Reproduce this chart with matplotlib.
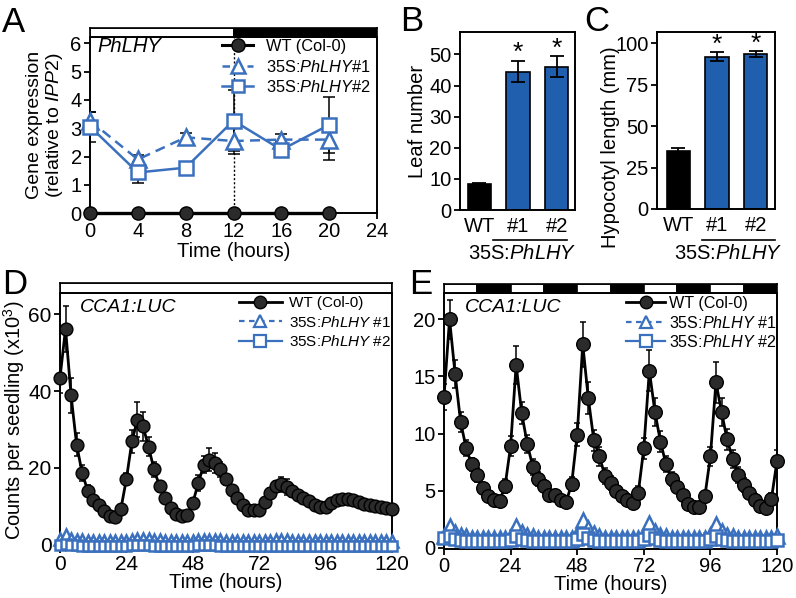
import numpy as np
import matplotlib
matplotlib.use('Agg')
import matplotlib.pyplot as plt
from matplotlib.lines import Line2D
from matplotlib.patches import Rectangle

plt.rcParams['font.family'] = ['Liberation Sans', 'DejaVu Sans']
plt.rcParams['mathtext.fontset'] = 'custom'
plt.rcParams['mathtext.rm'] = 'Liberation Sans'
plt.rcParams['mathtext.it'] = 'Liberation Sans:italic'
plt.rcParams['mathtext.bf'] = 'Liberation Sans:bold'

# ---------------- data ----------------
# Panel A: qPCR time course
a_time = [0, 4, 8, 12, 16, 20]
a_wt = [0, 0, 0, 0, 0, 0]
a_l1 = [3.27, 1.9, 2.68, 2.55, 2.6, 2.6]
a_l1_err = [0.3, 0.15, 0.17, 0.46, 0.2, 0.72]
a_l2 = [3.06, 1.44, 1.61, 3.27, 2.24, 3.12]
a_l2_err = [0.53, 0.36, 0.1, 1.08, 0.26, 1.0]
a_ld_start = [0, 12]
a_ld_end = [12, 24]
a_ld_color = ['white', 'black']

# Panel B: leaf number
b_labels = ['WT', '#1', '#2']
b_vals = [8.3, 44.5, 46.0]
b_err = [0.3, 3.5, 3.4]
b_sig = ['', '*', '*']

# Panel C: hypocotyl length
c_labels = ['WT', '#1', '#2']
c_vals = [34.8, 92.0, 93.5]
c_err = [1.8, 2.5, 2.0]
c_sig = ['', '*', '*']

# Panels D/E: time (hours)
time_h = np.arange(0, 122, 2)

d_wt = [43.5, 56.3, 38.9, 26.1, 18.7, 14.1, 11.7, 10.4, 8.7, 7.4,
        7.2, 9.3, 17.1, 27.0, 32.6, 30.9, 25.5, 19.6, 15.2, 12.2,
        9.6, 8.1, 7.4, 7.8, 10.9, 16.1, 20.9, 22.2, 21.3, 19.6,
        17.0, 14.3, 12.2, 10.4, 9.1, 9.0, 9.1, 11.0, 13.5, 15.2,
        15.7, 15.0, 13.9, 13.0, 12.2, 11.3, 10.4, 9.7, 9.7, 10.9,
        11.6, 11.9, 11.9, 11.6, 11.0, 10.6, 10.3, 10.0, 9.8, 9.6,
        9.3]
d_wt_err = [4.0, 6.0, 4.5, 3.0, 2.0, 1.5, 1.2, 1.0, 1.0, 0.8,
            0.8, 1.0, 1.5, 3.0, 4.5, 3.8, 2.5, 2.0, 1.5, 1.2,
            1.0, 0.8, 0.8, 0.8, 1.2, 2.0, 2.2, 3.0, 2.5, 2.0,
            1.5, 1.2, 1.0, 0.8, 0.8, 0.8, 0.8, 1.0, 1.2, 1.5,
            2.0, 2.0, 1.5, 1.0, 0.8, 0.8, 0.8, 0.8, 0.8, 0.8,
            0.8, 0.8, 0.8, 0.8, 0.8, 0.8, 0.8, 0.8, 0.8, 0.8,
            0.8]
d_l1 = [1.5, 2.5, 1.6, 1.2, 1.1, 1.0, 1.0, 1.0, 0.9, 0.9,
        0.9, 0.9, 1.0, 1.2, 1.4, 1.5, 1.4, 1.2, 1.1, 1.0,
        0.9, 0.9, 0.9, 0.9, 1.0, 1.1, 1.2, 1.2, 1.2, 1.1,
        1.0, 1.0, 0.9, 0.9, 0.9, 0.9, 0.9, 1.0, 1.0, 1.1,
        1.1, 1.1, 1.0, 1.0, 0.9, 0.9, 0.9, 0.9, 0.9, 1.0,
        1.0, 1.0, 1.0, 1.0, 1.0, 0.9, 0.9, 0.9, 0.9, 0.9,
        0.9]
d_l2 = [0.0, 0.3, 0.0, -0.2, -0.3, -0.3, -0.3, -0.3, -0.3, -0.3,
        -0.3, -0.3, -0.3, -0.2, -0.1, -0.1, -0.2, -0.3, -0.3, -0.3,
        -0.3, -0.3, -0.3, -0.3, -0.3, -0.2, -0.2, -0.2, -0.2, -0.3,
        -0.3, -0.3, -0.3, -0.3, -0.3, -0.3, -0.3, -0.3, -0.3, -0.3,
        -0.3, -0.3, -0.3, -0.3, -0.3, -0.3, -0.3, -0.3, -0.3, -0.3,
        -0.3, -0.3, -0.3, -0.3, -0.3, -0.3, -0.3, -0.3, -0.3, -0.3,
        -0.3]

e_wt = [13.2, 20.0, 15.2, 11.0, 8.7, 7.3, 6.4, 5.2, 4.5, 4.2,
        4.1, 5.4, 8.9, 16.0, 11.8, 9.1, 7.1, 6.0, 5.4, 4.6,
        4.6, 4.2, 4.0, 5.6, 9.9, 17.8, 13.1, 9.4, 8.0, 6.3,
        5.7, 5.0, 4.5, 4.2, 3.9, 4.8, 8.7, 15.5, 11.9, 9.3,
        7.3, 6.0, 5.3, 4.6, 3.8, 3.6, 3.6, 4.5, 8.0, 14.5,
        11.9, 9.5, 7.8, 6.4, 5.5, 4.8, 4.2, 3.7, 3.5, 4.3,
        7.6]
e_wt_err = [1.1, 1.7, 1.2, 0.9, 0.7, 0.6, 0.6, 0.5, 0.5, 0.4,
            0.4, 0.6, 0.9, 1.7, 1.0, 0.8, 0.7, 0.6, 0.5, 0.5,
            0.5, 0.4, 0.4, 0.6, 1.0, 2.0, 1.4, 0.9, 0.8, 0.7,
            0.6, 0.5, 0.5, 0.5, 0.5, 0.6, 0.9, 1.8, 1.2, 0.9,
            0.7, 0.6, 0.5, 0.5, 0.4, 0.4, 0.4, 0.5, 0.8, 1.8,
            1.2, 0.9, 0.8, 0.7, 0.6, 0.5, 0.5, 0.4, 0.4, 0.5,
            1.0]
e_l1 = [1.0, 1.95, 1.4, 1.1, 1.0, 0.9, 0.9, 0.9, 0.9, 0.9,
        0.9, 0.9, 1.0, 1.9, 1.4, 1.1, 1.0, 0.9, 0.9, 0.9,
        0.9, 0.9, 0.9, 0.9, 1.2, 2.4, 1.7, 1.3, 1.0, 0.9,
        0.9, 0.9, 0.9, 0.9, 0.9, 0.9, 1.1, 2.2, 1.5, 1.1,
        1.0, 0.9, 0.9, 0.9, 0.9, 0.9, 0.9, 0.9, 1.1, 2.1,
        1.5, 1.1, 1.0, 0.9, 0.9, 0.9, 0.9, 0.9, 0.9, 0.9,
        1.0]
e_l2 = [0.85, 1.0, 0.8, 0.65, 0.6, 0.6, 0.6, 0.6, 0.6, 0.6,
        0.6, 0.6, 0.7, 1.0, 0.8, 0.65, 0.6, 0.6, 0.6, 0.6,
        0.6, 0.6, 0.6, 0.6, 0.8, 1.2, 0.9, 0.7, 0.6, 0.6,
        0.6, 0.6, 0.6, 0.6, 0.6, 0.6, 0.75, 1.1, 0.85, 0.65,
        0.6, 0.6, 0.6, 0.6, 0.6, 0.6, 0.6, 0.6, 0.75, 1.0,
        0.8, 0.65, 0.6, 0.6, 0.6, 0.6, 0.6, 0.6, 0.6, 0.6,
        0.7]
d_ld_start = [0]
d_ld_end = [120]
d_ld_color = ['white']
e_ld_start = [0, 12, 24, 36, 48, 60, 72, 84, 96, 108]
e_ld_end = [12, 24, 36, 48, 60, 72, 84, 96, 108, 120]
e_ld_color = ['white', 'black'] * 5

# ---------------- styling ----------------
BLUE_LINE = '#3a70bd'
BLUE_BAR = '#1f5fae'
DARK = '#2b2b2b'
W, H = 796, 598
fig = plt.figure(figsize=(W / 100, H / 100), dpi=100)


def fx(x):
    return x / W


def fy(y):
    return 1 - y / H


def px_axes(l, t, r, b):
    return fig.add_axes([l / W, 1 - b / H, (r - l) / W, (b - t) / H])


def style(ax, fs=14):
    for s in ['top', 'right', 'left', 'bottom']:
        ax.spines[s].set_linewidth(1.4)
    ax.tick_params(direction='out', length=4, width=1.3, labelsize=fs, pad=2,
                   top=False, right=False)


def ld_bar(l, t, r, b, starts, ends, colors, xmax):
    ax = px_axes(l, t, r, b)
    ax.set_xlim(0, xmax)
    ax.set_ylim(0, 1)
    for s, e, c in zip(starts, ends, colors):
        ax.add_patch(Rectangle((s, 0), e - s, 1, facecolor=c, edgecolor='black', lw=1.2))
    ax.set_xticks([])
    ax.set_yticks([])
    for sp in ax.spines.values():
        sp.set_linewidth(1.2)
    return ax


# ---------------- Panel A ----------------
axA = px_axes(90, 37, 377, 213.3)
ld_bar(90, 28, 377, 37, a_ld_start, a_ld_end, a_ld_color, 24)
axA.axvline(12, color='black', ls=(0, (1.5, 1.5)), lw=1.0, zorder=1)
axA.errorbar(a_time, a_l1, yerr=a_l1_err, fmt='none', ecolor='black', elinewidth=1.1,
             capsize=4, capthick=1.1, zorder=2)
axA.errorbar(a_time, a_l2, yerr=a_l2_err, fmt='none', ecolor='black', elinewidth=1.1,
             capsize=4, capthick=1.1, zorder=2)
axA.plot(a_time, a_l1, ls=(0, (4, 2.5)), marker='^', color=BLUE_LINE, mfc='white',
         mec=BLUE_LINE, ms=11, mew=1.8, lw=1.8, zorder=3, clip_on=False)
axA.plot(a_time, a_l2, ls='-', marker='s', color=BLUE_LINE, mfc='white',
         mec=BLUE_LINE, ms=10, mew=1.8, lw=1.8, zorder=4, clip_on=False)
axA.plot(a_time, a_wt, '-o', color='black', mfc=DARK, mec='black', ms=9.5, lw=2.4,
         zorder=6, clip_on=False)
axA.set_xlim(0, 24)
axA.set_ylim(0, 6.22)
axA.set_xticks([0, 4, 8, 12, 16, 20, 24])
axA.set_yticks([0, 1, 2, 3, 4, 5, 6])
style(axA, 14.5)
axA.set_xlabel('Time (hours)', fontsize=14.5, labelpad=1)
axA.set_ylabel('Gene expression\n(relative to $\\it{IPP2}$)', fontsize=14, labelpad=4,
               linespacing=1.05)
fig.text(fx(97), fy(47), 'PhLHY', fontsize=14.5, style='italic', va='center', ha='left')
hA = [Line2D([], [], color='black', marker='o', mfc=DARK, mec='black', ms=9.5, lw=2.2),
      Line2D([], [], color=BLUE_LINE, ls=(0, (3, 2)), marker='^', mfc='white', mec=BLUE_LINE,
             ms=10, mew=1.8, lw=1.8),
      Line2D([], [], color=BLUE_LINE, marker='s', mfc='white', mec=BLUE_LINE, ms=9,
             mew=1.8, lw=1.8)]
axA.legend(hA, ['WT (Col-0)', '35S:$\\it{PhLHY}$#1', '35S:$\\it{PhLHY}$#2'],
           loc='upper left', bbox_to_anchor=(fx(222), fy(39)), bbox_transform=fig.transFigure,
           frameon=False, fontsize=11.8, handlelength=1.9, handletextpad=0.8,
           labelspacing=0.28, borderpad=0, borderaxespad=0)

# ---------------- Panel B ----------------
def bar_panel(ax, labels, vals, errs, sigs, ylim, yticks, ylabel, xlim, star_off):
    x = np.arange(len(labels))
    cols = ['black'] + [BLUE_BAR] * (len(labels) - 1)
    ax.bar(x, vals, width=0.6, color=cols, edgecolor='black', lw=1.2,
           yerr=errs, capsize=5, error_kw=dict(elinewidth=1.3, capthick=1.3, ecolor='black'))
    for xi, v, e, s in zip(x, vals, errs, sigs):
        if s:
            ax.text(xi, v + e + star_off, s, ha='center', va='bottom', fontsize=19)
    ax.set_xlim(*xlim)
    ax.set_ylim(*ylim)
    ax.set_xticks(x)
    ax.set_xticklabels(labels)
    ax.set_yticks(yticks)
    style(ax, 14.5)
    ax.tick_params(axis='x', length=0, pad=5)
    ax.set_ylabel(ylabel, fontsize=14.5, labelpad=2)


axB = px_axes(460, 32, 575, 210)
bar_panel(axB, b_labels, b_vals, b_err, b_sig, (0, 57.2), [0, 10, 20, 30, 40, 50],
          'Leaf number', (-0.5, 2.47), -1.5)
fig.add_artist(Line2D([fx(493), fx(567)], [fy(240), fy(240)], color='black', lw=1.2))
fig.text(fx(522), fy(254), '35S:$\\it{PhLHY}$', fontsize=14.5, ha='center', va='center')

axC = px_axes(657, 32, 775, 209)
bar_panel(axC, c_labels, c_vals, c_err, c_sig, (0, 106.8), [0, 25, 50, 75, 100],
          'Hypocotyl length (mm)', (-0.55, 2.5), -3.0)
axC.yaxis.set_label_coords(-0.31, 0.35)
fig.add_artist(Line2D([fx(702), fx(775)], [fy(240), fy(240)], color='black', lw=1.2))
fig.text(fx(728), fy(254), '35S:$\\it{PhLHY}$', fontsize=14.5, ha='center', va='center')


# ---------------- Panels D / E ----------------
def lum_panel(ax, wt, wt_err, l1, l2, ylim, yticks, ms_wt=9, ms_b=8, ms_s=7):
    ax.errorbar(time_h, wt, yerr=wt_err, fmt='none', ecolor='black', elinewidth=1.1,
                capsize=2.5, capthick=1.1, zorder=2)
    ax.plot(time_h, wt, '-o', color='black', mfc=DARK, mec='black', ms=ms_wt, mew=1.0,
            lw=2.0, zorder=3, clip_on=False)
    ax.plot(time_h, l1, ls=(0, (3, 2)), marker='^', color=BLUE_LINE, mfc='white',
            mec=BLUE_LINE, ms=ms_b, mew=1.8, lw=1.6, zorder=4, clip_on=False)
    ax.plot(time_h, l2, ls='-', marker='s', color=BLUE_LINE, mfc='white',
            mec=BLUE_LINE, ms=ms_s, mew=1.8, lw=1.6, zorder=5, clip_on=False)
    ax.set_xlim(0, 120)
    ax.set_ylim(*ylim)
    ax.set_xticks([0, 24, 48, 72, 96, 120])
    ax.set_yticks(yticks)


axD = px_axes(60, 293, 392, 547)
ld_bar(60, 283, 392, 293, d_ld_start, d_ld_end, d_ld_color, 120)
lum_panel(axD, d_wt, d_wt_err, d_l1, d_l2, (-0.6, 65.6), [0, 20, 40, 60],
          ms_wt=9.2, ms_b=9, ms_s=7.5)
style(axD, 15)
axD.set_xlabel('Time (hours)', fontsize=14.5, labelpad=-1)
axD.set_ylabel('Counts per seedling (x10$^{3}$)', fontsize=14.5, labelpad=1)
fig.text(fx(80), fy(307), 'CCA1:LUC', fontsize=14, style='italic', va='center', ha='left')

axE = px_axes(444, 293, 777, 549)
ld_bar(444, 284, 777, 293, e_ld_start, e_ld_end, e_ld_color, 120)
lum_panel(axE, e_wt, e_wt_err, e_l1, e_l2, (-0.1, 22.3), [0, 5, 10, 15, 20],
          ms_wt=9.8, ms_b=10.5, ms_s=8)
style(axE, 14.5)
axE.set_xlabel('Time (hours)', fontsize=14.5, labelpad=-1)
fig.text(fx(465), fy(307), 'CCA1:LUC', fontsize=14, style='italic', va='center', ha='left')

hD = [Line2D([], [], color='black', marker='o', mfc=DARK, mec='black', ms=9, lw=2.0),
      Line2D([], [], color=BLUE_LINE, ls=(0, (2.5, 2)), marker='^', mfc='white', mec=BLUE_LINE,
             ms=9, mew=1.6, lw=1.6),
      Line2D([], [], color=BLUE_LINE, marker='s', mfc='white', mec=BLUE_LINE, ms=8,
             mew=1.6, lw=1.6)]
labsDE = ['WT (Col-0)', '35S:$\\it{PhLHY}$ #1', '35S:$\\it{PhLHY}$ #2']
axD.legend(hD, labsDE, loc='upper left', bbox_to_anchor=(fx(239), fy(296)),
           bbox_transform=fig.transFigure, frameon=False, fontsize=11, handlelength=2.8,
           handletextpad=0.5, labelspacing=0.3, borderpad=0, borderaxespad=0)
axE.legend(hD, labsDE, loc='upper left', bbox_to_anchor=(fx(626), fy(296)),
           bbox_transform=fig.transFigure, frameon=False, fontsize=11.6, handlelength=2.45,
           handletextpad=0.2, labelspacing=0.22, borderpad=0, borderaxespad=0)

# panel letters
for letter, x, y in [('A', 2, 6), ('B', 400, 5), ('C', 584, 5), ('D', 2, 268), ('E', 409, 268)]:
    fig.text(fx(x), fy(y), letter, fontsize=25, ha='left', va='top')

fig.savefig('out.png', dpi=100)
